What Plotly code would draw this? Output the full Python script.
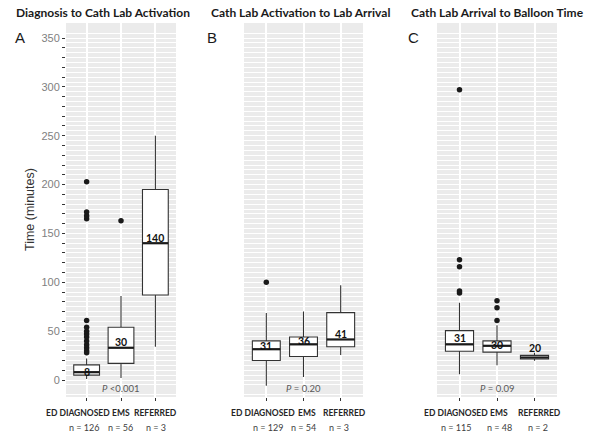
import plotly.graph_objects as go

# ---------------- data ----------------
categories = ["ED DIAGNOSED", "EMS", "REFERRED"]
panel_titles = ["Diagnosis to Cath Lab Activation",
                "Cath Lab Activation to Lab Arrival",
                "Cath Lab Arrival to Balloon Time"]
panel_letters = ["A", "B", "C"]
p_values = ["<i>P</i> <0.001", "<i>P</i> = 0.20", "<i>P</i> = 0.09"]

# panel A
a_q1 = [5, 17, 87]
a_med = [8, 33, 140]
a_q3 = [15.5, 54, 195]
a_lo = [1, 2, 34]
a_hi = [22, 86, 250]
a_out_ed = [28, 30, 33, 36, 40, 44, 47, 50, 54, 61, 165, 168, 172, 203]
a_out_ems = [163]
a_out_ref = []
a_labels = ["8", "30", "140"]
a_n = [126, 56, 3]

# panel B
b_q1 = [20, 24, 34]
b_med = [31.5, 36.5, 41.5]
b_q3 = [40, 44, 69]
b_lo = [-6, 3, 25.5]
b_hi = [68.5, 70, 97]
b_out_ed = [100]
b_out_ems = []
b_out_ref = []
b_labels = ["31", "36", "41"]
b_n = [129, 54, 3]

# panel C
c_q1 = [29.5, 28.5, 21.5]
c_med = [36.5, 35, 23]
c_q3 = [50.5, 40, 25.2]
c_lo = [6, 15, 19.7]
c_hi = [79, 56, 28]
c_out_ed = [89, 91, 116, 123, 297]
c_out_ems = [61, 74, 81]
c_out_ref = []
c_labels = ["31", "30", "20"]
c_n = [115, 48, 2]

# ---------------- styling ----------------
W, H = 600, 432
x_domains = [(66, 176), (244, 363), (437, 557)]  # pixels
y_top_px, y_bot_px = 23, 397
y_range = [-17.4, 365.4]
label_shift = [[0, 6, 5], [3, 3, 5], [6, 1, 10]]   # px shift of median labels
cat_shift = [[-9, 0, 0], [-3, 3, 4], [-4, 2, 5]]    # px x-shift of category labels
n_shift = [[-2, -1, 1], [2, 0, -2], [-3, 2, 3]]     # px x-shift of n labels
title_cx = [103, 300, 497]
letter_x = [20, 212, 413]
TITLE_FONT = "Lato"
AX_FONT = "Liberation Sans"

panels = [
    (a_q1, a_med, a_q3, a_lo, a_hi, [a_out_ed, a_out_ems, a_out_ref], a_labels, a_n),
    (b_q1, b_med, b_q3, b_lo, b_hi, [b_out_ed, b_out_ems, b_out_ref], b_labels, b_n),
    (c_q1, c_med, c_q3, c_lo, c_hi, [c_out_ed, c_out_ems, c_out_ref], c_labels, c_n),
]

fig = go.Figure()
annotations = []
xpos = [1, 2, 3]
box_w = 0.75

for i, (q1, med, q3, lo, hi, outs, labels, ns) in enumerate(panels):
    xa = "x" if i == 0 else f"x{i+1}"
    ya = "y" if i == 0 else f"y{i+1}"
    fig.add_trace(go.Box(
        x=xpos, q1=q1, median=med, q3=q3, lowerfence=lo, upperfence=hi,
        boxpoints=False, width=box_w, fillcolor="white",
        line=dict(color="#333333", width=1.1), whiskerwidth=0,
        xaxis=xa, yaxis=ya, showlegend=False, hoverinfo="skip"))
    for xc, m in zip(xpos, med):
        fig.add_trace(go.Scatter(
            x=[xc - box_w / 2, xc + box_w / 2], y=[m, m], mode="lines",
            line=dict(color="#1a1a1a", width=2.2), xaxis=xa, yaxis=ya,
            showlegend=False, hoverinfo="skip"))
    for xc, o in zip(xpos, outs):
        if o:
            fig.add_trace(go.Scatter(
                x=[xc] * len(o), y=o, mode="markers",
                marker=dict(color="#1a1a1a", size=5.5), xaxis=xa, yaxis=ya,
                showlegend=False, hoverinfo="skip"))
    for xc, m, lab, sh in zip(xpos, med, labels, label_shift[i]):
        annotations.append(dict(
            x=xc, y=m, xref=xa, yref=ya, text=f"<b>{lab}</b>", showarrow=False,
            xanchor="center", yanchor="middle", yshift=sh,
            font=dict(family=TITLE_FONT, size=10.5, color="#111111")))
    for xc, cat, n, cs, ns_ in zip(xpos, categories, ns, cat_shift[i], n_shift[i]):
        annotations.append(dict(
            x=xc, y=1 - 413 / H, xref=xa, yref="paper", text=f"<b>{cat}</b>",
            showarrow=False, xanchor="center", yanchor="middle", xshift=cs,
            font=dict(family=TITLE_FONT, size=8.5, color="#262626")))
        annotations.append(dict(
            x=xc, y=1 - 427 / H, xref=xa, yref="paper", text=f"n = {n}",
            showarrow=False, xanchor="center", yanchor="middle", xshift=ns_,
            font=dict(family=TITLE_FONT, size=9, color="#404040")))
    annotations.append(dict(
        x=2, y=1 - 388 / H, xref=xa, yref="paper", text=p_values[i],
        showarrow=False, xanchor="center", yanchor="middle",
        font=dict(family=TITLE_FONT, size=9.5, color="#595959")))
    annotations.append(dict(
        x=title_cx[i] / W, y=1 - 13 / H, xref="paper", yref="paper",
        text=f"<b>{panel_titles[i]}</b>", showarrow=False,
        xanchor="center", yanchor="middle",
        font=dict(family=TITLE_FONT, size=12, color="#1a1a1a")))
    annotations.append(dict(
        x=letter_x[i] / W, y=1 - 37 / H, xref="paper", yref="paper",
        text=panel_letters[i], showarrow=False, xanchor="center", yanchor="middle",
        font=dict(family=AX_FONT, size=15, color="#1a1a1a")))

annotations.append(dict(
    x=30 / W, y=1 - 210 / H, xref="paper", yref="paper", text="Time (minutes)",
    showarrow=False, textangle=-90, xanchor="center", yanchor="middle",
    font=dict(family=AX_FONT, size=12.5, color="#333333")))

major_vals = list(range(0, 351, 10))
major_text = [str(v) if v % 50 == 0 else "" for v in major_vals]
minor_vals = list(range(-15, 366, 10))

layout = dict(
    width=W, height=H, margin=dict(l=0, r=0, t=0, b=0),
    paper_bgcolor="white", plot_bgcolor="#EBEBEB",
    annotations=annotations, showlegend=False,
)
for i in range(3):
    x0, x1 = x_domains[i]
    suffix = "" if i == 0 else str(i + 1)
    layout[f"xaxis{suffix}"] = dict(
        domain=[x0 / W, x1 / W], range=[0.4, 3.6], tickvals=xpos,
        ticktext=["", "", ""], ticks="outside", ticklen=3, tickcolor="#333333",
        tickwidth=1, showgrid=True, gridcolor="white", gridwidth=1.6,
        zeroline=False, showline=False, anchor="y" + suffix, fixedrange=True)
    yax = dict(
        domain=[1 - y_bot_px / H, 1 - y_top_px / H], range=y_range,
        tickmode="array", tickvals=major_vals, ticktext=major_text,
        showgrid=True, gridcolor="white", gridwidth=1,
        minor=dict(tickmode="array", tickvals=minor_vals, showgrid=True,
                   gridcolor="white", gridwidth=0.7, ticks=""),
        zeroline=False, showline=False, anchor="x" + suffix, fixedrange=True)
    if i == 0:
        yax.update(ticks="outside", ticklen=3, tickcolor="#333333", tickwidth=1,
                   showticklabels=True,
                   tickfont=dict(family=AX_FONT, size=11, color="#7f7f7f"))
    else:
        yax.update(ticks="", showticklabels=False)
    layout[f"yaxis{suffix}"] = yax

fig.update_layout(**layout)
fig.write_html("out.html", config={"displayModeBar": False},
               post_script="document.body.style.margin='0';")
